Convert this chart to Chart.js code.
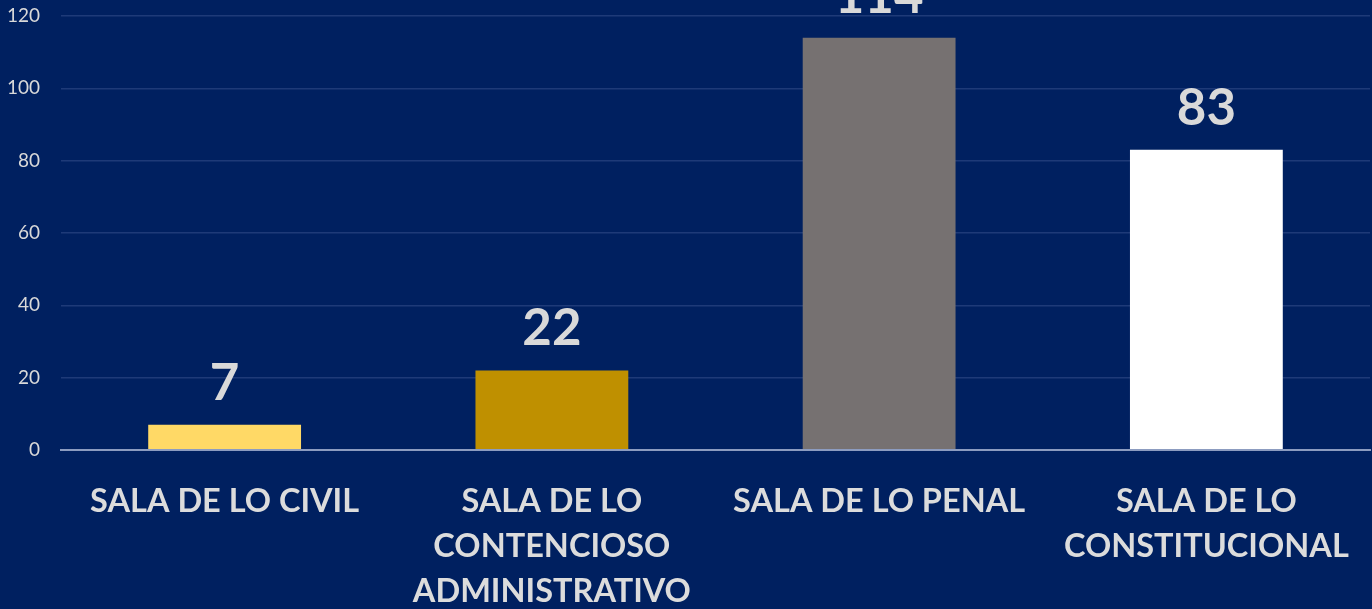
<!DOCTYPE html>
<html>
<head>
<meta charset="utf-8">
<script src="https://cdn.jsdelivr.net/npm/chart.js@4"></script>
<style>
  html, body { margin: 0; padding: 0; background: #002060; }
  #wrap { width: 1372px; height: 609px; }
</style>
</head>
<body>
<div id="wrap"><canvas id="chart"></canvas></div>
<script>
const categories = [
  ['SALA DE LO CIVIL'],
  ['SALA DE LO', 'CONTENCIOSO', 'ADMINISTRATIVO'],
  ['SALA DE LO PENAL'],
  ['SALA DE LO', 'CONSTITUCIONAL']
];
const values = [7, 22, 114, 83];
const barColors = ['#FFD966', '#BF9000', '#767171', '#FFFFFF'];
const yTicks = [0, 20, 40, 60, 80, 100, 120];

// draws the big value above each bar
const valueLabels = {
  id: 'valueLabels',
  afterDatasetsDraw(chart) {
    const { ctx } = chart;
    const meta = chart.getDatasetMeta(0);
    ctx.save();
    ctx.fillStyle = '#D9D9D9';
    ctx.font = 'bold 51px Lato';
    ctx.textAlign = 'center';
    ctx.textBaseline = 'alphabetic';
    meta.data.forEach((bar, i) => {
      ctx.fillText(String(values[i]), bar.x, bar.y - 25);
    });
    ctx.restore();
  }
};

new Chart(document.getElementById('chart'), {
  type: 'bar',
  data: {
    labels: categories,
    datasets: [{
      data: values,
      backgroundColor: barColors,
      borderWidth: 0,
      barPercentage: 0.467,
      categoryPercentage: 1
    }]
  },
  options: {
    responsive: true,
    maintainAspectRatio: false,
    animation: false,
    layout: { padding: { top: 16, right: 2, left: 0, bottom: 0 } },
    plugins: { legend: { display: false }, tooltip: { enabled: false } },
    scales: {
      x: {
        grid: { display: false },
        border: { color: '#8C9CC0', width: 2 },
        ticks: {
          color: '#DCDCDC',
          font: { family: 'Lato', weight: 'bold', size: 32.5, lineHeight: 1.38 },
          padding: 21,
          maxRotation: 0,
          autoSkip: false
        },
        afterFit: (scale) => {
          scale.height = 159;
          scale.paddingLeft = 0;
          scale.paddingRight = 0;
        }
      },
      y: {
        min: 0,
        max: 120,
        afterBuildTicks: (scale) => { scale.ticks = yTicks.map(v => ({ value: v })); },
        border: { display: false },
        grid: {
          drawTicks: false,
          color: (c) => c.tick && c.tick.value === 0 ? '#8C9CC0' : '#1E3A78',
          lineWidth: (c) => c.tick && c.tick.value === 0 ? 2 : 1.5
        },
        ticks: {
          color: '#D9D9D9',
          font: { family: 'Lato', size: 19 },
          padding: 21
        },
        afterFit: (scale) => {
          scale.width = 61;
          scale.paddingTop = 0;
          scale.paddingBottom = 0;
        }
      }
    }
  },
  plugins: [valueLabels]
});
</script>
</body>
</html>
